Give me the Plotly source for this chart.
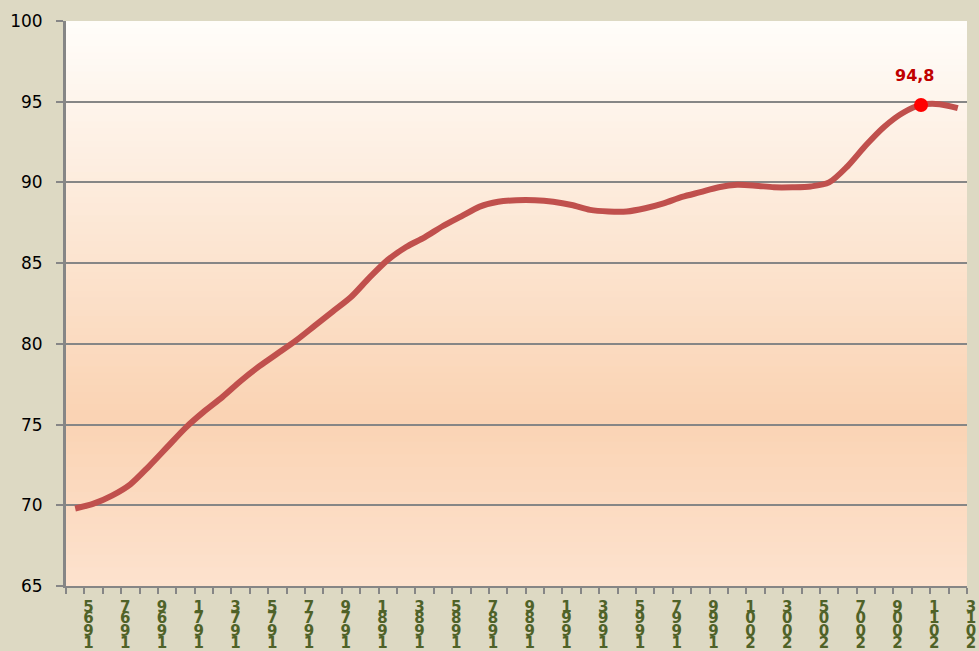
import plotly.graph_objects as go

# ---- data ----
years = list(range(1964, 2013))
values = [69.8, 70.1, 70.6, 71.3, 72.4, 73.6, 74.8, 75.8, 76.7, 77.7,
          78.6, 79.4, 80.2, 81.1, 82.0, 82.9, 84.1, 85.2, 86.0, 86.6,
          87.3, 87.9, 88.5, 88.8, 88.9, 88.9, 88.8, 88.6, 88.3, 88.2,
          88.2, 88.4, 88.7, 89.1, 89.4, 89.7, 89.85, 89.8, 89.7, 89.7,
          89.75, 90.0, 91.0, 92.3, 93.45, 94.3, 94.8, 94.85, 94.6]
highlight_year = 2010
label_years = list(range(1965, 2014, 2))
axis_years = list(range(1964, 2014))
y_ticks = [65, 70, 75, 80, 85, 90, 95, 100]

# mid-year placement
xpos = [y + 0.5 for y in years]
hi_idx = years.index(highlight_year)
hi_val = values[hi_idx]

fig = go.Figure()

# invisible carrier traces so the overlaid label axes get drawn
for row in range(1, 4):
    fig.add_trace(go.Scatter(
        x=xpos, y=values, xaxis="x%d" % (row + 1), yaxis="y",
        mode="lines", line=dict(width=0, color="rgba(0,0,0,0)"),
        opacity=0, hoverinfo="skip", showlegend=False))

fig.add_trace(go.Scatter(
    x=xpos, y=values, mode="lines",
    line=dict(color="#c0504d", width=6, shape="spline", smoothing=0.8),
    hoverinfo="skip", showlegend=False))

fig.add_trace(go.Scatter(
    x=[xpos[hi_idx]], y=[hi_val], mode="markers",
    marker=dict(color="#ff0000", size=14, line=dict(width=0)),
    showlegend=False))

fig.add_annotation(
    x=xpos[hi_idx], y=hi_val, xref="x", yref="y",
    text="<b>" + f"{hi_val:.1f}".replace(".", ",") + "</b>", showarrow=False,
    xshift=-7, yshift=29,
    font=dict(family="DejaVu Sans", size=16, color="#c00000"))

# vertical gradient background of plot area
def lerp(c1, c2, t):
    return tuple(round(a + (b - a) * t) for a, b in zip(c1, c2))

stops = [(0.0, (255, 253, 250)), (0.70, (250, 211, 179)), (1.0, (253, 226, 206))]
n = 90
shapes = []
for i in range(n):
    f0 = i / n
    f1 = (i + 1) / n
    fm = (f0 + f1) / 2
    for j in range(len(stops) - 1):
        if stops[j][0] <= fm <= stops[j + 1][0]:
            t = (fm - stops[j][0]) / (stops[j + 1][0] - stops[j][0])
            c = lerp(stops[j][1], stops[j + 1][1], t)
            break
    shapes.append(dict(type="rect", xref="x domain", yref="y domain",
                       x0=0, x1=1, y0=1 - f1 - 0.002, y1=1 - f0,
                       fillcolor="rgb(%d,%d,%d)" % c, line=dict(width=0),
                       layer="below"))

label_font = dict(family="DejaVu Sans", size=15, color="#4f6228", weight="bold")
grey = "#868686"

layout = dict(
    width=979, height=651,
    margin=dict(l=66, r=12, t=21, b=65),
    paper_bgcolor="#ddd9c3",
    plot_bgcolor="rgba(0,0,0,0)",
    shapes=shapes,
    showlegend=False,
    yaxis=dict(
        range=[65, 100], automargin=False,
        tickmode="array", tickvals=y_ticks,
        ticks="outside", ticklen=7, tickwidth=2, tickcolor=grey,
        showgrid=True, gridcolor=grey, gridwidth=2,
        zeroline=False,
        showline=True, linecolor=grey, linewidth=3,
        ticklabelstandoff=10,
        tickfont=dict(family="DejaVu Sans", size=17, color="#000000"),
    ),
)

# stacked vertical year labels: one overlaid axis per character row
pitch = 12.3
for row in range(4):
    texts = [(str(y)[::-1][row] if y in label_years else "") for y in axis_years]
    ax = dict(
        range=[1964, 2013], automargin=False,
        tickmode="array", tickvals=axis_years, ticktext=texts,
        showgrid=False, zeroline=False, tickangle=0,
        ticklabelshift=4,
        ticklabelstandoff=int(round(row * pitch)),
        tickfont=label_font,
    )
    if row == 0:
        ax.update(ticks="outside", ticklen=6, tickwidth=2, tickcolor=grey,
                  showline=True, linecolor=grey, linewidth=2)
        layout["xaxis"] = ax
    else:
        ax.update(ticks="outside", ticklen=6, tickcolor="rgba(0,0,0,0)",
                  showline=False, overlaying="x", anchor="y",
                  side="bottom")
        layout["xaxis%d" % (row + 1)] = ax

fig.update_layout(**layout)

fig.write_html("out.html",
               config={"displayModeBar": False},
               post_script="document.body.style.margin='0';"
                           "document.body.style.padding='0';"
                           "document.body.style.overflow='hidden';")
